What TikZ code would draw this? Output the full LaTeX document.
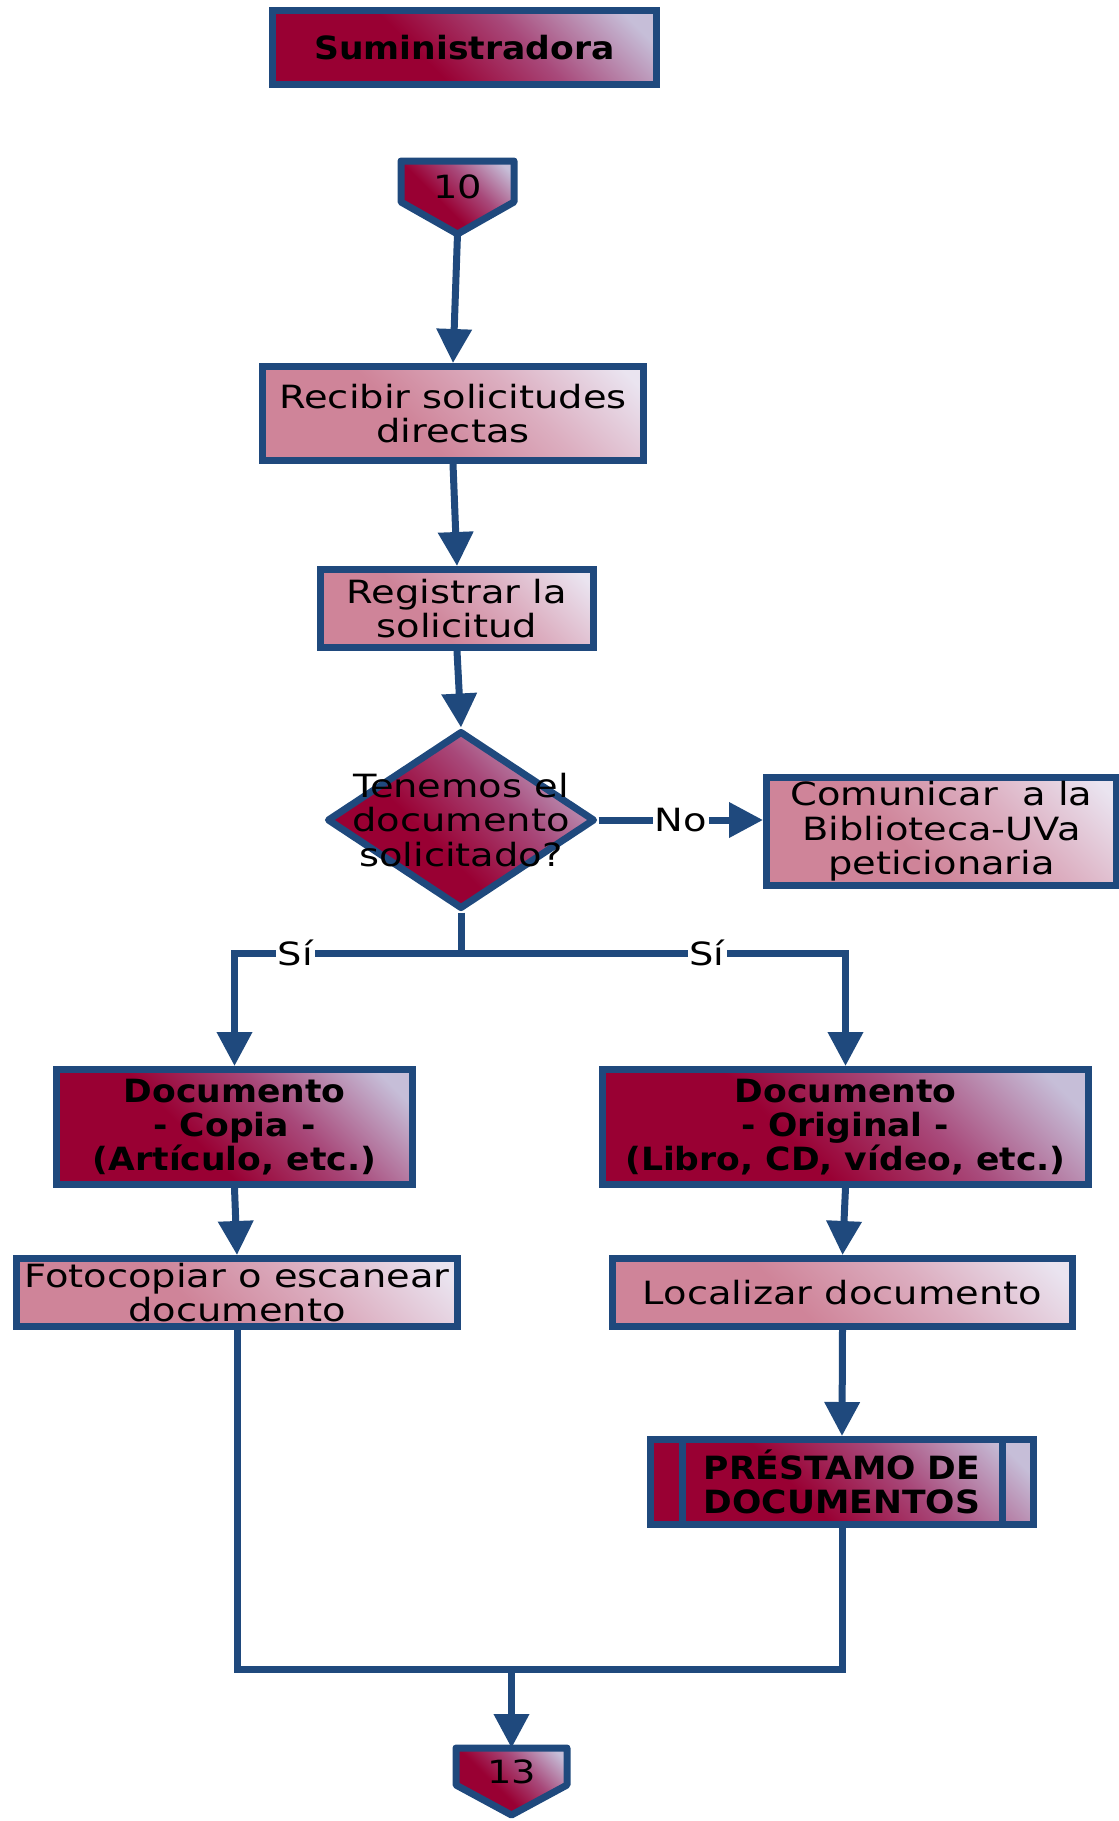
\documentclass[tikz,border=0pt]{standalone}
\usepackage{fontspec}
\setmainfont{DejaVu Sans}[FakeStretch=1.2,BoldFeatures={FakeStretch=1.08}]
\usetikzlibrary{shapes.geometric,arrows.meta,calc}
\definecolor{bord}{HTML}{1F497D}
\definecolor{crim}{HTML}{990033}
\definecolor{crimmid}{HTML}{A8497A}
\definecolor{lav}{HTML}{C6BED8}
\definecolor{pinka}{HTML}{CF8499}
\definecolor{pinkb}{HTML}{DCAEC0}
\definecolor{pale}{HTML}{EAE4F0}
\pgfdeclareverticalshading{darkgrad}{100bp}{color(0bp)=(crim); color(42bp)=(crim); color(60bp)=(crimmid); color(80bp)=(lav); color(100bp)=(lav)}
\pgfdeclareverticalshading{lightgrad}{100bp}{color(0bp)=(pinka); color(42bp)=(pinka); color(62bp)=(pinkb); color(82bp)=(pale); color(100bp)=(pale)}
\tikzset{
  txt/.style={font=\fontsize{16pt}{17.2pt}\selectfont},
  box/.style={txt, draw=bord, line width=3.5pt, rectangle, inner sep=2pt, align=center},
  darkfill/.style={shading=darkgrad, shading angle=-45},
  lightfill/.style={shading=lightgrad, shading angle=-45},
  darkbox/.style={box, darkfill, font=\fontsize{16pt}{17.2pt}\selectfont\bfseries},
  lightbox/.style={box, lightfill},
  line/.style={draw=bord, line width=3.5pt},
  conn/.style={line, -{Triangle[width=17pt,length=17pt]}},
  lbl/.style={txt, fill=white, inner sep=1pt},
  offp/.style={draw=bord, line width=3.5pt, line join=round, darkfill}
}
\begin{document}
\begin{tikzpicture}[x=0.5pt,y=-0.5pt]
\useasboundingbox (0,0) rectangle (1119,1821);

% header
\node[darkbox, minimum width=192pt, minimum height=37pt] (sum) at (464.5,47.5) {Suministradora};

% off-page 10
\path[offp] (401,161) -- (514,161) -- (514,202) -- (457.5,234) -- (401,202) -- cycle;
\coordinate (p10tip) at (457.5,234);
\node[txt, inner sep=0] (p10) at (457.5,187) {10};

% process boxes
\node[lightbox, minimum width=190.5pt, minimum height=47pt] (rec) at (453,413.5) {Recibir solicitudes\\directas};
\node[lightbox, minimum width=136.5pt, minimum height=39pt] (reg) at (457,608.5) {Registrar la\\solicitud};

% decision
\node[diamond, draw=bord, line width=3.5pt, line join=round, darkfill, minimum width=134pt, minimum height=89pt, inner sep=0] (dec) at (461,820) {};
\node[txt, align=center, inner sep=0] (dect) at (dec.center) {Tenemos el\\documento\\solicitado?};

\node[lightbox, minimum width=175pt, minimum height=54pt] (com) at (941.5,831.5) {Comunicar\ \ a la\\Biblioteca-UVa\\peticionaria};

\node[darkbox, minimum width=178pt, minimum height=57.5pt] (copia) at (234.5,1127) {Documento\\- Copia -\\(Artículo, etc.)};
\node[darkbox, minimum width=243pt, minimum height=57.5pt] (orig) at (845.5,1127) {Documento\\- Original -\\(Libro, CD, vídeo, etc.)};

\node[lightbox, minimum width=220.5pt, minimum height=34pt] (foto) at (237,1292.5) {Fotocopiar o escanear\\documento};
\node[lightbox, minimum width=230pt, minimum height=34pt] (loc) at (842.5,1292.5) {Localizar documento};

\node[darkbox, minimum width=191.5pt, minimum height=42.5pt] (pres) at (842,1482) {PRÉSTAMO DE\\DOCUMENTOS};
\draw[line] ($(pres.north west)+(35,0)$) -- ($(pres.south west)+(35,0)$);
\draw[line] ($(pres.north east)+(-35,0)$) -- ($(pres.south east)+(-35,0)$);

% off-page 13
\path[offp] (456,1748) -- (567,1748) -- (567,1785) -- (511.5,1815) -- (456,1785) -- cycle;
\coordinate (p13top) at (511.5,1748);
\node[txt, inner sep=0] (p13) at (511.5,1772) {13};

% connectors
\draw[conn] (p10tip) -- (rec.north);
\draw[conn] (rec.south) -- (reg.north);
\draw[conn] (reg.south) -- (dec.north);
\draw[conn] (dec.east) -- node[lbl] (no) {No} (dec.east -| com.west);
\coordinate (split) at (461,953);
\draw[line] (dec.south) -- (split);
\draw[conn] (split) -| node[lbl, pos=0.366] (si1) {Sí} (copia.north);
\draw[conn] (split) -| node[lbl, pos=0.32] (si2) {Sí} (orig.north);
\draw[conn] (copia.south) -- (foto.north);
\draw[conn] (orig.south) -- (loc.north);
\draw[conn] (loc.south) -- (pres.north);
\coordinate (mj) at (511.5,1669);
\draw[line] (foto.south) |- (mj);
\draw[line] (pres.south) |- (mj);
\draw[conn] (mj) -- (p13top);
\end{tikzpicture}
\end{document}
